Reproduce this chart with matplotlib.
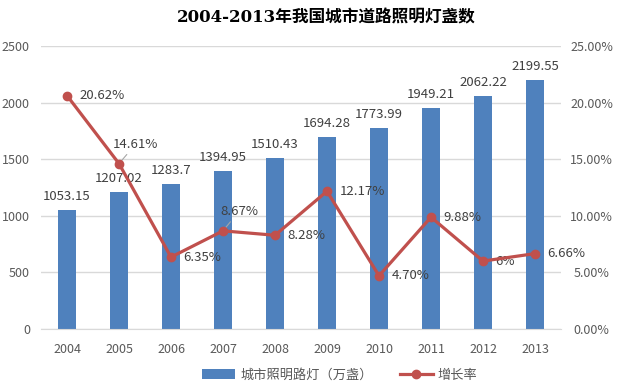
import matplotlib
matplotlib.use("Agg")
import matplotlib.pyplot as plt
from matplotlib.ticker import FuncFormatter, MultipleLocator

plt.rcParams['font.family'] = ['Noto Sans CJK SC', 'DejaVu Sans']

years = ['2004', '2005', '2006', '2007', '2008', '2009', '2010', '2011', '2012', '2013']
lamps = [1053.15, 1207.02, 1283.7, 1394.95, 1510.43, 1694.28, 1773.99, 1949.21, 2062.22, 2199.55]
lamp_labels = ['1053.15', '1207.02', '1283.7', '1394.95', '1510.43', '1694.28', '1773.99', '1949.21', '2062.22', '2199.55']
growth = [20.62, 14.61, 6.35, 8.67, 8.28, 12.17, 4.70, 9.88, 6.0, 6.66]
growth_labels = ['20.62%', '14.61%', '6.35%', '8.67%', '8.28%', '12.17%', '4.70%', '9.88%', '6%', '6.66%']

title = '2004-2013年我国城市道路照明灯盏数'
bar_name = '城市照明路灯（万盏）'
line_name = '增长率'

bar_color = '#4F81BD'
line_color = '#C0504D'
text_color = '#404040'
tick_color = '#595959'
grid_color = '#D9D9D9'

fig = plt.figure(figsize=(6.18, 3.82), dpi=100)
ax = fig.add_axes([41/618, 1-329/382, (561-41)/618, (329-46)/382])
x = list(range(len(years)))

bars = ax.bar(x, lamps, width=0.33, color=bar_color, zorder=2, label=bar_name)
ax.set_xlim(-0.5, 9.5)
ax.set_ylim(0, 2500)
ax.yaxis.set_major_locator(MultipleLocator(500))
ax.grid(axis='y', color=grid_color, lw=1, zorder=0)
ax.set_axisbelow(True)
for s in ['top', 'right', 'left']:
    ax.spines[s].set_visible(False)
ax.spines['bottom'].set_color(grid_color)
ax.set_xticks(x)
ax.set_xticklabels(years)
ax.tick_params(axis='x', length=0, pad=10, labelsize=9, labelcolor=tick_color)
ax.tick_params(axis='y', length=0, pad=8, labelsize=9, labelcolor=tick_color)

for xi, v, lab in zip(x, lamps, lamp_labels):
    ax.annotate(lab, (xi, v), xytext=(0, 5), textcoords='offset points',
                ha='center', va='bottom', fontsize=9.5, color=text_color, zorder=5)

ax2 = ax.twinx()
ax2.set_ylim(0, 25)
ax2.yaxis.set_major_locator(MultipleLocator(5))
ax2.yaxis.set_major_formatter(FuncFormatter(lambda v, p: f'{v:.2f}%'))
for s in ax2.spines.values():
    s.set_visible(False)
ax2.tick_params(axis='y', length=0, pad=22, labelsize=9, labelcolor=tick_color)
for t in ax2.get_yticklabels():
    t.set_horizontalalignment('center')

ax2.plot(x, growth, color=line_color, lw=2.3, marker='o', markersize=6, zorder=4, label=line_name)

offsets = {1: (12, 14), 3: (11.5, 14)}
for xi, v, lab in zip(x, growth, growth_labels):
    if xi in offsets:
        ax2.annotate(lab, (xi, v), xytext=offsets[xi], textcoords='offset points',
                     ha='center', va='center', fontsize=9.5, color=text_color,
                     arrowprops=dict(arrowstyle='-', color='#A6A6A6', lw=0.8,
                                     shrinkA=1, shrinkB=1))
    else:
        ax2.annotate(lab, (xi, v), xytext=(9, 0), textcoords='offset points',
                     ha='left', va='center', fontsize=9.5, color=text_color)

fig.text(326/618, 1-18/382, title, ha='center', va='center', fontsize=12,
         fontweight='bold', family=['DejaVu Serif', 'Noto Sans CJK SC'], color='black')

h1, l1 = ax.get_legend_handles_labels()
h2, l2 = ax2.get_legend_handles_labels()
fig.legend(h1 + h2, l1 + l2, loc='center', bbox_to_anchor=(340/618, 1-375/382), ncol=2,
           frameon=False, fontsize=9.5, labelcolor=tick_color, handlelength=2.5,
           columnspacing=2.0, handletextpad=0.4)

fig.savefig('out.png', dpi=100)
